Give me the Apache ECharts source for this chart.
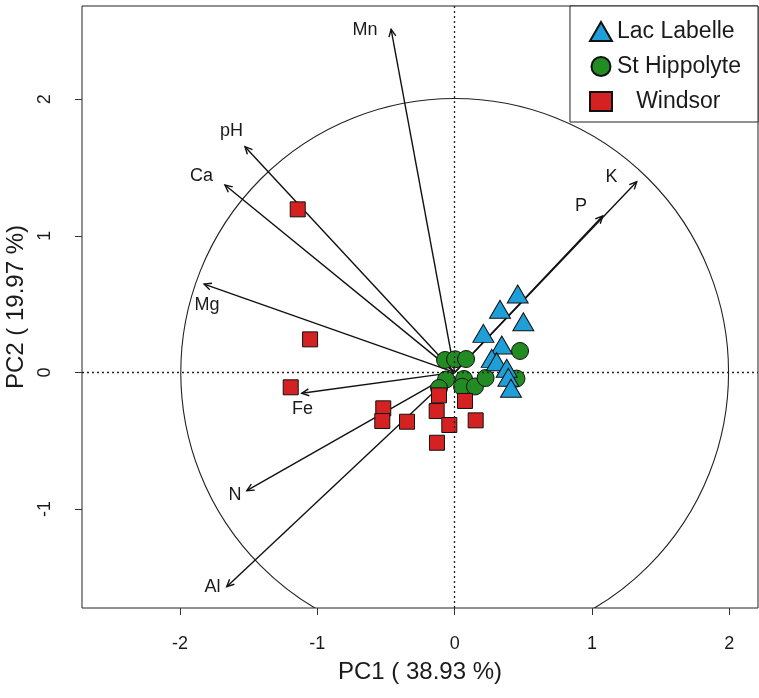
<!DOCTYPE html>
<html><head><meta charset="utf-8">
<script src="https://cdn.jsdelivr.net/npm/echarts@6/dist/echarts.min.js"></script>
<style>html,body{margin:0;padding:0;background:#fff}#c{width:759px;height:698px}</style>
</head><body><div id="c"></div>
<script>
// ---- data ----
const xTicks = [-2, -1, 0, 1, 2];
const yTicks = [-1, 0, 1, 2];
const xTitle = 'PC1 ( 38.93 %)';
const yTitle = 'PC2 ( 19.97 %)';
const groupNames = ['Lac Labelle', 'St Hippolyte', 'Windsor'];

const lacLabelleX = [0.459, 0.330, 0.500, 0.209, 0.343, 0.270, 0.306, 0.379, 0.391, 0.410];
const lacLabelleY = [0.574, 0.462, 0.371, 0.286, 0.201, 0.103, 0.078, 0.030, -0.036, -0.116];

const stHippolyteX = [-0.070, 0.003, 0.083, -0.063, 0.068, 0.054, 0.148, 0.225, 0.476, 0.450, -0.114];
const stHippolyteY = [0.091, 0.096, 0.098, -0.052, -0.048, -0.105, -0.103, -0.041, 0.157, -0.045, -0.114];

const windsorX = [-1.143, -1.053, -1.194, -0.520, -0.527, -0.347, -0.114, -0.131, -0.039, -0.129, 0.075, 0.153];
const windsorY = [1.194, 0.242, -0.109, -0.263, -0.356, -0.361, -0.168, -0.283, -0.385, -0.515, -0.209, -0.351];

const varNames = ['Mn', 'pH', 'Ca', 'Mg', 'Fe', 'N', 'Al', 'K', 'P'];
const loadX = [-0.463, -1.527, -1.673, -1.825, -1.114, -1.514, -1.660, 1.326, 1.078];
const loadY = [2.512, 1.653, 1.372, 0.647, -0.153, -0.866, -1.569, 1.396, 1.145];
const labelX = [-0.653, -1.625, -1.843, -1.803, -1.108, -1.599, -1.763, 1.142, 0.920];
const labelY = [2.507, 1.768, 1.438, 0.494, -0.268, -0.901, -1.568, 1.434, 1.215];

const circleRadius = 2;

// ---- build ----
const zip = (a, b) => a.map((v, i) => [v, b[i]]);
const FONT = 'Liberation Sans, Arial, Helvetica, sans-serif';
const TXT = '#1a1a1a';

const arrowData = varNames.map((n, i) => [loadX[i], loadY[i], labelX[i], labelY[i], n]);

const chart = echarts.init(document.getElementById('c'), null, {renderer: 'canvas'});
chart.setOption({
  animation: false,
  backgroundColor: '#ffffff',
  textStyle: {fontFamily: FONT},
  grid: {left: 82, right: 1, top: 6, bottom: 90, show: true, borderColor: '#222', borderWidth: 1, backgroundColor: 'transparent', containLabel: false, outerBoundsMode: 'none'},
  legend: {
    data: groupNames,
    orient: 'vertical',
    right: 1, top: 6,
    padding: [14, 17, 9, 19],
    itemGap: 12,
    itemWidth: 22, itemHeight: 19,
    borderColor: '#222', borderWidth: 1, borderRadius: 0,
    backgroundColor: '#fff',
    textStyle: {fontSize: 23, color: TXT, fontFamily: FONT},
    formatter: n => n === 'Windsor' ? '   ' + n : n,
    selectedMode: false
  },
  xAxis: {
    type: 'value', min: -2.714, max: 2.209,
    axisLine: {show: false, onZero: false},
    splitLine: {show: false},
    axisTick: {show: true, length: 7, lineStyle: {color: '#333', width: 1}, customValues: xTicks},
    axisLabel: {fontSize: 18, color: TXT, margin: 27, customValues: xTicks, fontFamily: FONT},
    name: xTitle, nameLocation: 'middle', nameGap: 52,
    nameTextStyle: {fontSize: 24, color: TXT, fontFamily: FONT}
  },
  yAxis: {
    type: 'value', min: -1.725, max: 2.683,
    axisLine: {show: false, onZero: false},
    splitLine: {show: false},
    axisTick: {show: true, length: 7, lineStyle: {color: '#333', width: 1}, customValues: yTicks},
    axisLabel: {fontSize: 18, color: TXT, margin: 28, rotate: 90, customValues: yTicks, fontFamily: FONT},
    name: yTitle, nameLocation: 'middle', nameGap: 52,
    nameTextStyle: {fontSize: 24, color: TXT, fontFamily: FONT}
  },
  series: [
    {
      type: 'custom', name: 'circle', clip: true, silent: true, z: 1,
      data: [[0, 0]],
      renderItem: (params, api) => {
        const c = api.coord([0, 0]);
        const s = api.size([circleRadius, circleRadius]);
        return {type: 'circle', shape: {cx: c[0], cy: c[1], r: (s[0] + s[1]) / 2},
                style: {fill: 'none', stroke: '#222', lineWidth: 1.1}};
      },
      markLine: {
        silent: true, symbol: ['none', 'none'], label: {show: false},
        lineStyle: {type: [2, 3], color: '#222', width: 1.3},
        data: [{xAxis: 0}, {yAxis: 0}]
      }
    },
    {
      type: 'custom', name: 'loadings', silent: true, z: 2,
      data: arrowData,
      renderItem: (params, api) => {
        const o = api.coord([0, 0]);
        const t = api.coord([api.value(0), api.value(1)]);
        const l = api.coord([api.value(2), api.value(3)]);
        const ang = Math.atan2(t[1] - o[1], t[0] - o[0]);
        const hl = 8, hs = Math.PI / 7;
        const h1 = [t[0] - hl * Math.cos(ang - hs), t[1] - hl * Math.sin(ang - hs)];
        const h2 = [t[0] - hl * Math.cos(ang + hs), t[1] - hl * Math.sin(ang + hs)];
        const st = {stroke: '#111', lineWidth: 1.4, fill: 'none'};
        return {type: 'group', children: [
          {type: 'line', shape: {x1: o[0], y1: o[1], x2: t[0], y2: t[1]}, style: st},
          {type: 'polyline', shape: {points: [h1, t, h2]}, style: st},
          {type: 'text', x: l[0], y: l[1], style: {text: api.value(4), fill: TXT, fontSize: 18, fontFamily: FONT, align: 'center', verticalAlign: 'middle'}}
        ]};
      }
    },
    {
      type: 'scatter', name: 'St Hippolyte', symbol: 'circle', symbolSize: 17, z: 3,
      itemStyle: {color: '#228b22', borderColor: '#111', borderWidth: 1, opacity: 1},
      data: zip(stHippolyteX, stHippolyteY)
    },
    {
      type: 'scatter', name: 'Windsor', symbol: 'rect', symbolSize: 15, z: 4,
      itemStyle: {color: '#d42222', borderColor: '#111', borderWidth: 1, opacity: 1},
      data: zip(windsorX, windsorY)
    },
    {
      type: 'scatter', name: 'Lac Labelle', symbol: 'triangle', symbolSize: [21, 18], z: 5,
      itemStyle: {color: '#1e9fd8', borderColor: '#111', borderWidth: 1, opacity: 1},
      data: zip(lacLabelleX, lacLabelleY)
    }
  ]
});
</script>
</body></html>
